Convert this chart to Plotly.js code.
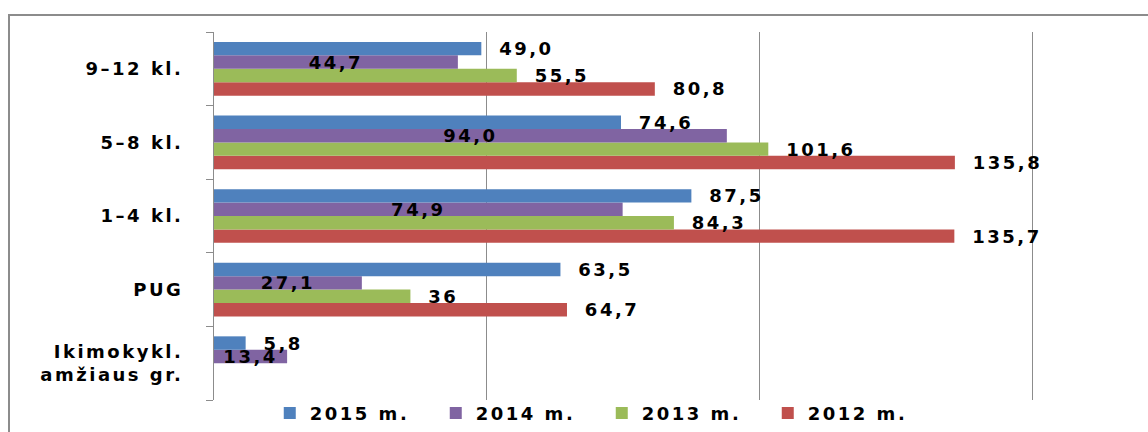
<!DOCTYPE html>
<html>
<head>
<meta charset="utf-8">
<script src="https://cdn.plot.ly/plotly-3.0.1.min.js"></script>
<style>
html,body{margin:0;padding:0;background:#fff;overflow:hidden;}
#frame{position:absolute;left:8px;top:14px;width:1200px;height:500px;border-left:2px solid #8c8c8c;border-top:2px solid #8c8c8c;box-sizing:border-box;}
#chart{position:absolute;left:0;top:0;width:1148px;height:432px;}
svg text{letter-spacing:2.5px;}
</style>
</head>
<body>
<div id="frame"></div>
<div id="chart"></div>
<script>
// Categories (top to bottom as shown)
const categories = ["9–12 kl.", "5–8 kl.", "1–4 kl.", "PUG", "Ikimokykl.<br>amžiaus gr."];
const seriesNames = ["2015 m.", "2014 m.", "2013 m.", "2012 m."];
const values2015 = [49.0, 74.6, 87.5, 63.5, 5.8];
const values2014 = [44.7, 94.0, 74.9, 27.1, 13.4];
const values2013 = [55.5, 101.6, 84.3, 36, null];
const values2012 = [80.8, 135.8, 135.7, 64.7, null];
const labels2015 = ["49,0", "74,6", "87,5", "63,5", "5,8"];
const labels2014 = ["44,7", "94,0", "74,9", "27,1", "13,4"];
const labels2013 = ["55,5", "101,6", "84,3", "36", ""];
const labels2012 = ["80,8", "135,8", "135,7", "64,7", ""];

const colors = {"2015 m.": "#4F81BD", "2014 m.": "#8064A2", "2013 m.": "#9BBB59", "2012 m.": "#C0504D"};
const font = {family: "DejaVu Sans, Verdana, sans-serif", size: 18, color: "#000", weight: "bold"};
const pad = s => s ? "\u00a0\u2009" + s : s;

function mk(name, vals, labels, inside) {
  return {
    type: "bar", orientation: "h", name: name,
    y: categories, x: vals,
    text: inside ? labels : labels.map(pad),
    texttemplate: "%{text}",
    textposition: inside ? "inside" : "outside",
    insidetextanchor: "middle",
    textangle: 0,
    constraintext: "none",
    cliponaxis: false,
    textfont: font, insidetextfont: font, outsidetextfont: font,
    marker: {color: colors[name], line: {width: 0}},
    hoverinfo: "x+name"
  };
}

const data = [
  mk("2012 m.", values2012, labels2012, false),
  mk("2013 m.", values2013, labels2013, false),
  mk("2014 m.", values2014, labels2014, true),
  mk("2015 m.", values2015, labels2015, false)
];

const layout = {
  width: 1148, height: 432,
  margin: {l: 214, r: 114, t: 32, b: 32, autoexpand: false},
  paper_bgcolor: "rgba(0,0,0,0)", plot_bgcolor: "rgba(0,0,0,0)",
  barmode: "group", bargap: 0.27, bargroupgap: 0,
  font: font,
  showlegend: true,
  legend: {orientation: "h", traceorder: "reversed", x: 0.068, xanchor: "left", y: 0.014, yanchor: "top",
           font: font, itemwidth: 30, entrywidth: 121, entrywidthmode: "pixels",
           tracegroupgap: 0, bgcolor: "rgba(0,0,0,0)"},
  xaxis: {range: [0, 150.3], tickvals: [50, 100, 150], showticklabels: false, showgrid: true,
          gridcolor: "#8c8c8c", gridwidth: 1, zeroline: false, showline: false, ticks: "", fixedrange: true},
  yaxis: {type: "category", categoryorder: "array", categoryarray: categories.slice().reverse(),
          tickson: "boundaries", ticks: "outside", ticklen: 7, tickcolor: "#8c8c8c", tickwidth: 1,
          showline: true, linecolor: "#8c8c8c", linewidth: 1, showgrid: false,
          ticklabelstandoff: 26, tickfont: font, fixedrange: true}
};

Plotly.newPlot("chart", data, layout, {displayModeBar: false, staticPlot: true});
</script>
</body>
</html>
